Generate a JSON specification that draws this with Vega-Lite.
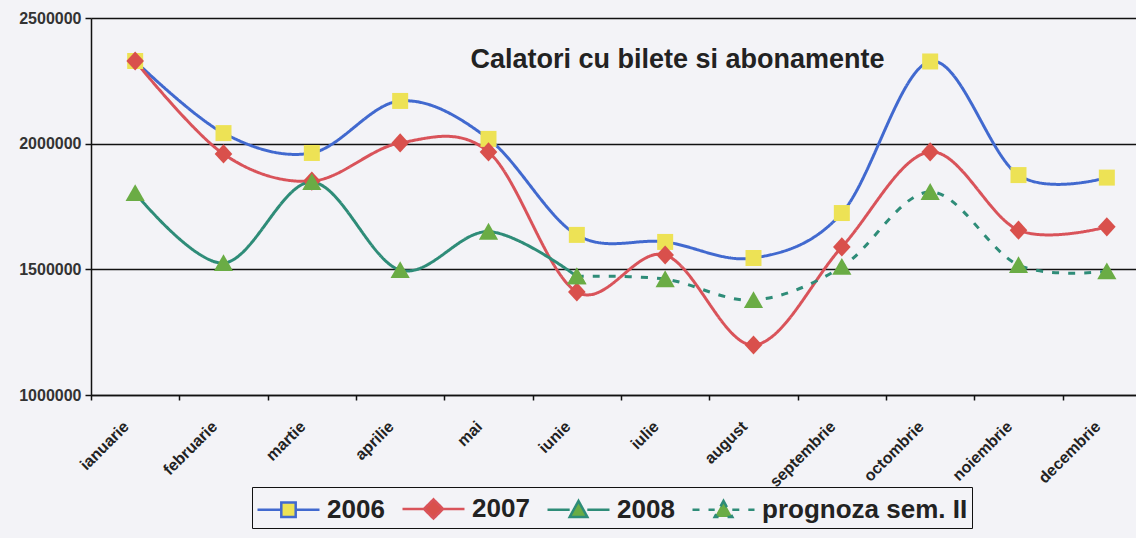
{
  "$schema": "https://vega.github.io/schema/vega-lite/v6.json",
  "width": 1045,
  "height": 377,
  "autosize": {"type": "none"},
  "padding": {"left": 91, "top": 18, "right": 0, "bottom": 143},
  "background": "#f3f3f7",
  "config": {"view": {"stroke": null}, "font": "Liberation Sans"},
  "title": {"text": "Calatori cu bilete si abonamente", "anchor": "middle", "frame": "group", "offset": -64, "dx": 64, "font": "Liberation Sans", "fontSize": 27, "fontWeight": "bold", "color": "#222222"},
  "data": {"values": [
    {"luna": "ianuarie", "serie": "2006", "valoare": 2329000},
    {"luna": "februarie", "serie": "2006", "valoare": 2042000},
    {"luna": "martie", "serie": "2006", "valoare": 1963000},
    {"luna": "aprilie", "serie": "2006", "valoare": 2170000},
    {"luna": "mai", "serie": "2006", "valoare": 2019000},
    {"luna": "iunie", "serie": "2006", "valoare": 1637000},
    {"luna": "iulie", "serie": "2006", "valoare": 1609000},
    {"luna": "august", "serie": "2006", "valoare": 1545000},
    {"luna": "septembrie", "serie": "2006", "valoare": 1724000},
    {"luna": "octombrie", "serie": "2006", "valoare": 2327000},
    {"luna": "noiembrie", "serie": "2006", "valoare": 1875000},
    {"luna": "decembrie", "serie": "2006", "valoare": 1865000},
    {"luna": "ianuarie", "serie": "2007", "valoare": 2329000},
    {"luna": "februarie", "serie": "2007", "valoare": 1959000},
    {"luna": "martie", "serie": "2007", "valoare": 1851000},
    {"luna": "aprilie", "serie": "2007", "valoare": 2003000},
    {"luna": "mai", "serie": "2007", "valoare": 1967000},
    {"luna": "iunie", "serie": "2007", "valoare": 1410000},
    {"luna": "iulie", "serie": "2007", "valoare": 1557000},
    {"luna": "august", "serie": "2007", "valoare": 1199000},
    {"luna": "septembrie", "serie": "2007", "valoare": 1589000},
    {"luna": "octombrie", "serie": "2007", "valoare": 1967000},
    {"luna": "noiembrie", "serie": "2007", "valoare": 1656000},
    {"luna": "decembrie", "serie": "2007", "valoare": 1669000},
    {"luna": "ianuarie", "serie": "2008", "valoare": 1804000},
    {"luna": "februarie", "serie": "2008", "valoare": 1525000},
    {"luna": "martie", "serie": "2008", "valoare": 1847000},
    {"luna": "aprilie", "serie": "2008", "valoare": 1497000},
    {"luna": "mai", "serie": "2008", "valoare": 1650000},
    {"luna": "iunie", "serie": "2008", "valoare": 1472000},
    {"luna": "iunie", "serie": "prognoza sem. II", "valoare": 1472000},
    {"luna": "iulie", "serie": "prognoza sem. II", "valoare": 1461000},
    {"luna": "august", "serie": "prognoza sem. II", "valoare": 1378000},
    {"luna": "septembrie", "serie": "prognoza sem. II", "valoare": 1510000},
    {"luna": "octombrie", "serie": "prognoza sem. II", "valoare": 1808000},
    {"luna": "noiembrie", "serie": "prognoza sem. II", "valoare": 1517000},
    {"luna": "decembrie", "serie": "prognoza sem. II", "valoare": 1492000}
  ]},
  "encoding": {
    "x": {
      "field": "luna", "type": "ordinal",
      "sort": ["ianuarie", "februarie", "martie", "aprilie", "mai", "iunie", "iulie", "august", "septembrie", "octombrie", "noiembrie", "decembrie"],
      "scale": {"type": "band", "range": [0, 1060], "paddingInner": 0, "paddingOuter": 0},
      "axis": {"title": null, "labelAngle": -45, "tickBand": "extent", "domainColor": "#111111", "domainWidth": 1.5, "tickColor": "#111111", "tickSize": 5, "tickWidth": 1.5, "labelFontSize": 16, "labelFontWeight": "bold", "labelColor": "#222222", "labelPadding": 18, "labelOffset": -15, "grid": false}
    },
    "y": {
      "field": "valoare", "type": "quantitative",
      "scale": {"domain": [1000000, 2500000], "nice": false, "zero": false},
      "axis": {"title": null, "values": [1000000, 1500000, 2000000, 2500000], "format": "d", "grid": true, "gridColor": "#111111", "gridWidth": 1.5, "domainColor": "#111111", "domainWidth": 1.5, "tickColor": "#111111", "tickSize": 6, "tickWidth": 1.5, "labelFontSize": 16, "labelFontWeight": "bold", "labelColor": "#333333", "labelPadding": 4}
    }
  },
  "layer": [
    {
      "mark": {"type": "line", "interpolate": "cardinal", "strokeWidth": 3},
      "encoding": {
        "stroke": {
          "field": "serie", "type": "nominal",
          "scale": {"domain": ["2006", "2007", "2008", "prognoza sem. II"], "range": ["#4169cf", "#d9535a", "#2e8c78", "#2e8c78"]},
          "legend": {
            "orient": "none", "legendX": 161, "legendY": 469, "direction": "horizontal", "columns": 4, "title": null,
            "symbolType": "M-1,0H2.875", "symbolSize": 1024, "symbolStrokeWidth": 2.5, "labelOffset": 36, "columnPadding": 12, "padding": 4,
            "strokeColor": "#111111", "fillColor": null, "labelFont": "Liberation Sans", "labelFontSize": 26, "labelFontWeight": "bold", "labelColor": "#222222", "labelLimit": 400,
            "encode": {"symbols": {"update": {
              "shape": {"signal": "datum.value === '2006' ? 'M-1,0H0.4875M1.3875,0H2.875M0.4875,-0.45H1.3875V0.45H0.4875Z' : datum.value === '2007' ? 'M-1,0H0.3375M1.5375,0H2.875M0.9375,-0.6L1.5375,0L0.9375,0.6L0.3375,0Z' : 'M-1,0H0.3875M1.4875,0H2.875M0.9375,-0.55L1.4875,0.45H0.3875Z'"},
              "fill": {"signal": "datum.value === '2006' ? '#ede255' : datum.value === '2007' ? '#d9504c' : '#6aac45'"},
              "fillOpacity": {"value": 1}
            }}}
          }
        },
        "strokeDash": {
          "field": "serie", "type": "nominal",
          "scale": {"domain": ["2006", "2007", "2008", "prognoza sem. II"], "range": [[1, 0], [1, 0], [1, 0], [7, 9]]},
          "legend": {
            "orient": "none", "legendX": 161, "legendY": 469, "direction": "horizontal", "columns": 4, "title": null,
            "symbolType": "M-1,0H2.875", "symbolSize": 1024, "symbolStrokeWidth": 2.5, "labelOffset": 36, "columnPadding": 12, "padding": 4,
            "strokeColor": "#111111", "fillColor": null, "labelFont": "Liberation Sans", "labelFontSize": 26, "labelFontWeight": "bold", "labelColor": "#222222", "labelLimit": 400,
            "encode": {"symbols": {"update": {
              "shape": {"signal": "datum.value === '2006' ? 'M-1,0H0.4875M1.3875,0H2.875M0.4875,-0.45H1.3875V0.45H0.4875Z' : datum.value === '2007' ? 'M-1,0H0.3375M1.5375,0H2.875M0.9375,-0.6L1.5375,0L0.9375,0.6L0.3375,0Z' : 'M-1,0H0.3875M1.4875,0H2.875M0.9375,-0.55L1.4875,0.45H0.3875Z'"},
              "fill": {"signal": "datum.value === '2006' ? '#ede255' : datum.value === '2007' ? '#d9504c' : '#6aac45'"},
              "fillOpacity": {"value": 1}
            }}}
          }
        }
      }
    },
    {
      "transform": [{"filter": {"field": "serie", "equal": "2006"}}],
      "mark": {"type": "point", "filled": true, "size": 1024, "opacity": 1, "strokeWidth": 0, "shape": "M-0.5,-0.5H0.5V0.5H-0.5Z", "color": "#ede255"}
    },
    {
      "transform": [{"filter": {"field": "serie", "equal": "2007"}}],
      "mark": {"type": "point", "filled": true, "size": 1024, "opacity": 1, "strokeWidth": 0, "shape": "M0,-0.6L0.55,0L0,0.6L-0.55,0Z", "color": "#d9504c"}
    },
    {
      "transform": [{"filter": {"field": "serie", "oneOf": ["2008", "prognoza sem. II"]}}],
      "mark": {"type": "point", "filled": true, "size": 1024, "opacity": 1, "strokeWidth": 0, "shape": "M0,-0.55L0.6,0.5H-0.6Z", "color": "#6aac45"}
    }
  ]
}
